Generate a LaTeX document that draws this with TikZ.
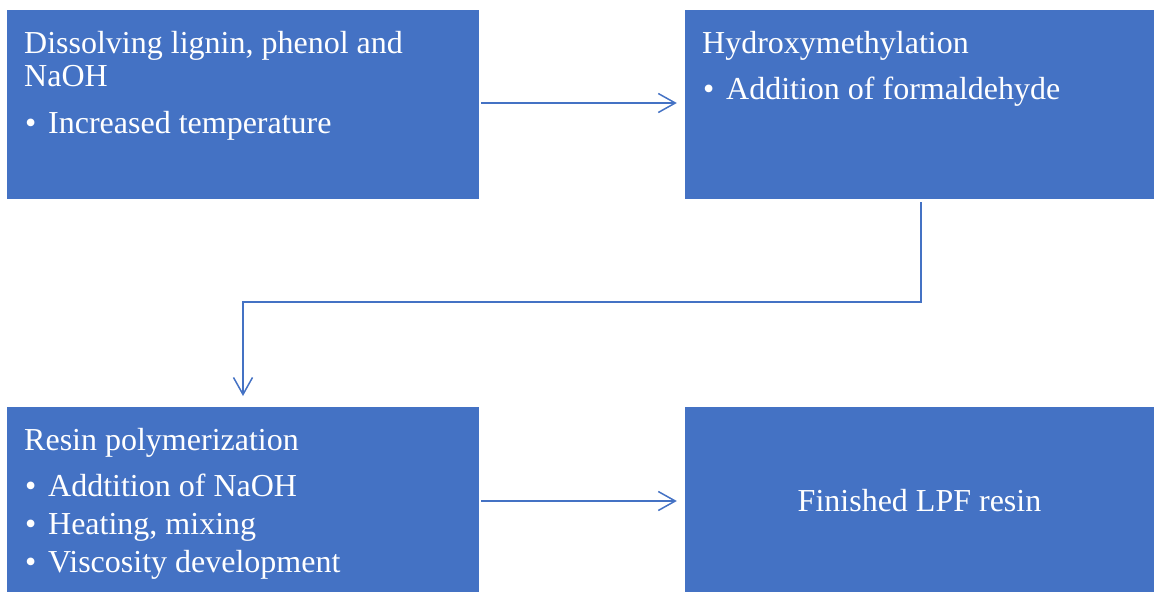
\documentclass[tikz,border=0pt]{standalone}
\usepackage{fontspec}
\setmainfont{Liberation Serif}
\usetikzlibrary{arrows.meta}
\definecolor{boxblue}{HTML}{4472C4}
\newcommand{\blt}{\makebox[24pt][l]{\hspace{1pt}\textbullet}}
\tikzset{
  stepbox/.style={fill=boxblue, draw=none, inner sep=0pt},
  txt/.style={anchor=base west, inner sep=0pt, text=white, font=\fontsize{32}{36}\selectfont},
  conn/.style={draw=boxblue, line width=1.5pt, -{Straight Barb[length=17pt,width=19pt,line width=1.5pt]}}
}
\begin{document}
\begin{tikzpicture}[x=1pt,y=-1pt]
\useasboundingbox (0,0) rectangle (1154,592);
% boxes
\node[stepbox, minimum width=472pt, minimum height=189pt] (b1) at (243,104.5) {};
\node[stepbox, minimum width=469pt, minimum height=189pt] (b2) at (919.5,104.5) {};
\node[stepbox, minimum width=472pt, minimum height=185pt] (b3) at (243,499.5) {};
\node[stepbox, minimum width=469pt, minimum height=185pt] (b4) at (919.5,499.5) {};
% texts box 1
\node[txt] (t1a) at (24,53) {Dissolving lignin, phenol and};
\node[txt] (t1b) at (24,86) {NaOH};
\node[txt] (t1c) at (24,133) {\blt Increased temperature};
% box 2
\node[txt] (t2a) at (702,53) {Hydroxymethylation};
\node[txt] (t2b) at (702,99) {\blt Addition of formaldehyde};
% box 3
\node[txt] (t3a) at (24,450) {Resin polymerization};
\node[txt] (t3b) at (24,496) {\blt Addtition of NaOH};
\node[txt] (t3c) at (24,534) {\blt Heating, mixing};
\node[txt] (t3d) at (24,572) {\blt Viscosity development};
% box 4
\node[txt, anchor=base] (t4) at (919.5,511) {Finished LPF resin};
% connectors
\coordinate (c1s) at ([xshift=2pt]b1.east|-0,103);
\coordinate (c1e) at ([xshift=-8pt]b2.west|-0,103);
\draw[conn] (c1s) -- (c1e);
\coordinate (c2s) at (921,202); \coordinate (c2m1) at (921,302);
\coordinate (c2m2) at (243,302); \coordinate (c2e) at (243,396);
\draw[conn] (c2s) -- (c2m1) -- (c2m2) -- (c2e);
\coordinate (c3s) at ([xshift=2pt]b3.east|-0,501);
\coordinate (c3e) at ([xshift=-8pt]b4.west|-0,501);
\draw[conn] (c3s) -- (c3e);
\end{tikzpicture}
\end{document}
